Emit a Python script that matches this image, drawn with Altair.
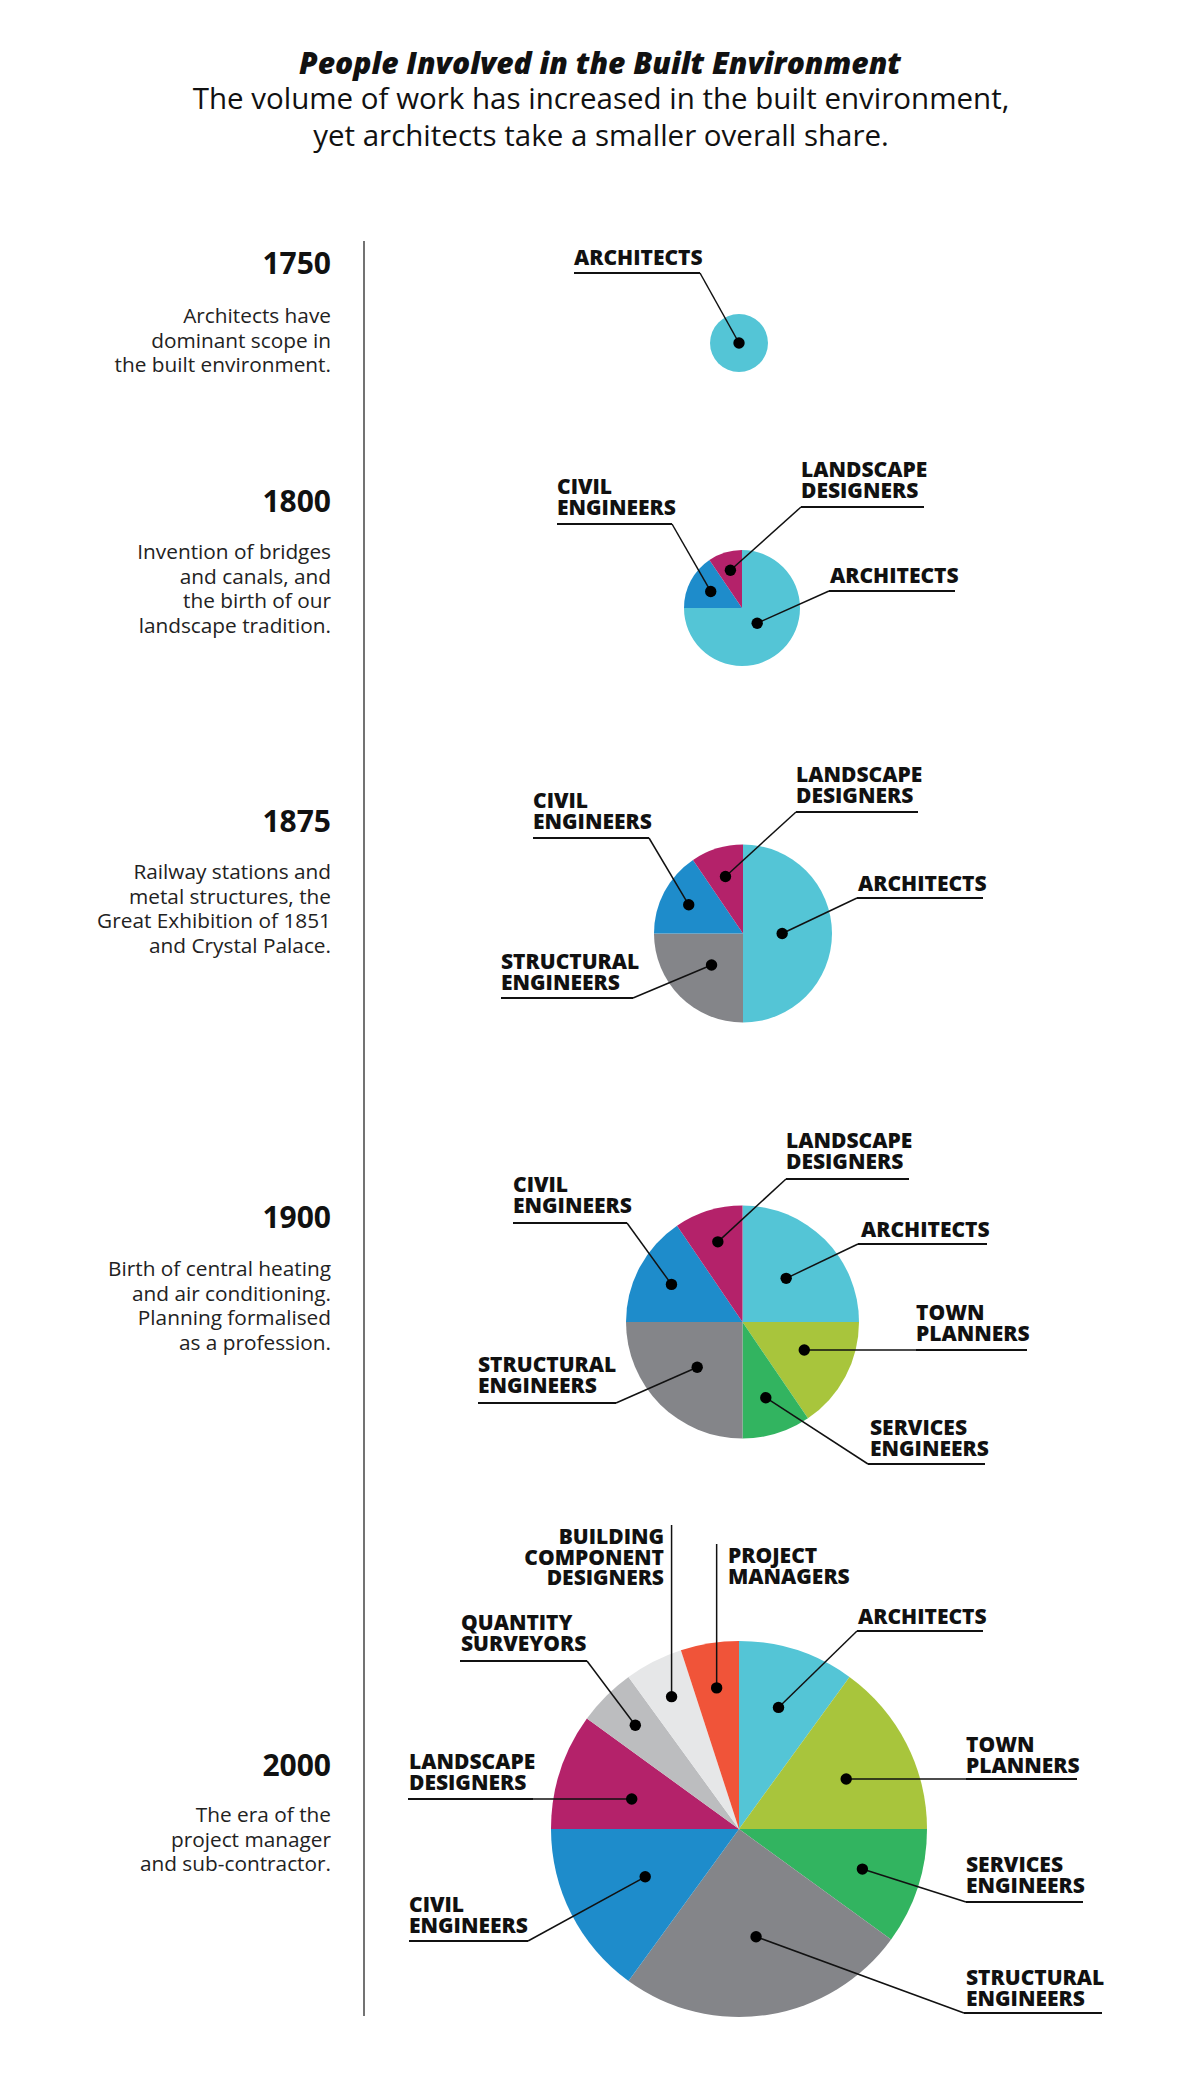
import altair as alt
import numpy as np
import pandas as pd

# ---------------- data ----------------
TITLE = "People Involved in the Built Environment"
SUBTITLE = ["The volume of work has increased in the built environment,",
            "yet architects take a smaller overall share."]

years = ["1750", "1800", "1875", "1900", "2000"]
descriptions = [
    "Architects have\ndominant scope in\nthe built environment.",
    "Invention of bridges\nand canals, and\nthe birth of our\nlandscape tradition.",
    "Railway stations and\nmetal structures, the\nGreat Exhibition of 1851\nand Crystal Palace.",
    "Birth of central heating\nand air conditioning.\nPlanning formalised\nas a profession.",
    "The era of the\nproject manager\nand sub-contractor.",
]
professions = ["Architects", "Town Planners", "Services Engineers",
               "Structural Engineers", "Civil Engineers", "Landscape Designers",
               "Quantity Surveyors", "Building Component Designers", "Project Managers"]
label_texts = ["ARCHITECTS", "TOWN\nPLANNERS", "SERVICES\nENGINEERS",
               "STRUCTURAL\nENGINEERS", "CIVIL\nENGINEERS", "LANDSCAPE\nDESIGNERS",
               "QUANTITY\nSURVEYORS", "BUILDING\nCOMPONENT\nDESIGNERS", "PROJECT\nMANAGERS"]
# share of the work (%) per profession, same order as `professions`
shares_1750 = [100, 0, 0, 0, 0, 0, 0, 0, 0]
shares_1800 = [75, 0, 0, 0, 15.5, 9.5, 0, 0, 0]
shares_1875 = [50, 0, 0, 25, 15.5, 9.5, 0, 0, 0]
shares_1900 = [25, 15.5, 9.5, 25, 15.5, 9.5, 0, 0, 0]
shares_2000 = [10, 15, 10, 25, 15, 10, 5, 5, 5]
shares = {"1750": shares_1750, "1800": shares_1800, "1875": shares_1875,
          "1900": shares_1900, "2000": shares_2000}

# ---------------- styles / layout ----------------
colors = ["#54C5D6", "#A8C53C", "#32B460", "#848589", "#1E8CCB",
          "#B4226A", "#BCBDBF", "#E6E7E8", "#F05439"]
FONT = "Open Sans"
# pie centre x, centre y, radius (page pixels)
PIE = {"1750": (739, 343, 29), "1800": (742, 608, 58), "1875": (743, 933.5, 89),
       "1900": (742.5, 1322, 116.5), "2000": (739, 1829, 188)}
YEAR_BASE = {"1750": 274, "1800": 512, "1875": 832, "1900": 1228, "2000": 1776}
DESC_BASE = {"1750": 323, "1800": 559, "1875": 879, "1900": 1276, "2000": 1822}
TEXT_RIGHT = 331
# (year, profession, align, text x, first baseline, underline x1, x2, y,
#  attach side, dot radius fraction, style)
LABELS = [
    ("1750", "Architects", "left", 574, 265, 574, 700, 273, "x2", 0.0, "u"),
    ("1800", "Civil Engineers", "left", 557, 494, 557, 672, 524, "x2", 0.61, "u"),
    ("1800", "Landscape Designers", "left", 801, 477, 801, 924, 507, "x1", 0.68, "u"),
    ("1800", "Architects", "left", 830, 583, 829, 955, 591, "x1", 0.37, "u"),
    ("1875", "Landscape Designers", "left", 796, 782, 796, 918, 812, "x1", 0.67, "u"),
    ("1875", "Civil Engineers", "left", 533, 808, 533, 649, 838, "x2", 0.69, "u"),
    ("1875", "Architects", "left", 858, 891, 857, 983, 898, "x1", 0.44, "u"),
    ("1875", "Structural Engineers", "left", 501, 969, 501, 633, 998, "x2", 0.50, "u"),
    ("1900", "Landscape Designers", "left", 786, 1148, 786, 909, 1179, "x1", 0.72, "u"),
    ("1900", "Civil Engineers", "left", 513, 1192, 513, 627, 1223, "x2", 0.69, "u"),
    ("1900", "Architects", "left", 861, 1237, 858, 987, 1244, "x1", 0.53, "u"),
    ("1900", "Town Planners", "left", 916, 1320, 916, 1027, 1350, "x1", 0.60, "flat"),
    ("1900", "Structural Engineers", "left", 478, 1372, 478, 616, 1403, "x2", 0.55, "u"),
    ("1900", "Services Engineers", "left", 870, 1435, 868, 985, 1464, "x1", 0.68, "u"),
    ("2000", "Building Component Designers", "right", 664, 1544, 0, 0, 1525, "v", 0.79, "v"),
    ("2000", "Project Managers", "left", 728, 1563, 0, 0, 1544, "v", 0.76, "v"),
    ("2000", "Architects", "left", 858, 1624, 857, 983, 1631, "x1", 0.68, "u"),
    ("2000", "Quantity Surveyors", "left", 461, 1630, 460, 587, 1661, "x2", 0.78, "u"),
    ("2000", "Town Planners", "left", 966, 1752, 966, 1077, 1779, "x1", 0.64, "flat"),
    ("2000", "Landscape Designers", "left", 409, 1769, 408, 533, 1799, "x2", 0.60, "flat"),
    ("2000", "Services Engineers", "left", 966, 1872, 966, 1083, 1902, "x1", 0.69, "u"),
    ("2000", "Civil Engineers", "left", 409, 1912, 409, 528, 1941, "x2", 0.56, "u"),
    ("2000", "Structural Engineers", "left", 966, 1985, 964, 1102, 2013, "x1", 0.58, "u"),
]

# ---------------- tables ----------------
rows = []
for y in years:
    cx, cy, r = PIE[y]
    acc = 0.0
    for i, p in enumerate(professions):
        v = shares[y][i]
        if v <= 0:
            continue
        rows.append(dict(year=y, profession=p, share=v, t0=acc, t1=acc + v,
                         cx=cx, cy=cy, r=r))
        acc += v
slices = pd.DataFrame(rows)

lab_rows = []
for (y, p, align, tx, ty, ux1, ux2, uy, side, frac, style) in LABELS:
    s = slices[(slices["year"] == y) & (slices["profession"] == p)].iloc[0]
    mid = (s["t0"] + s["t1"]) / 2 / 100 * 2 * np.pi
    d = frac * s["r"]
    dx = s["cx"] + d * np.sin(mid)
    dy = s["cy"] - d * np.cos(mid)
    if style == "flat":
        dy = uy  # dot level with its underline
    if style == "v":
        lx, ly = dx, uy
    else:
        lx = ux1 if side == "x1" else ux2
        ly = uy
    lab_rows.append(dict(year=y, profession=p, text=label_texts[professions.index(p)],
                         anchor=align, tx=tx, ty=ty, ux1=ux1, ux2=ux2, uy=uy,
                         dotx=dx, doty=dy, lx=lx, ly=ly, style=style))
labels = pd.DataFrame(lab_rows)
underl = labels[labels["style"] != "v"]

years_df = pd.DataFrame(dict(year=years, desc=descriptions,
                             ybase=[YEAR_BASE[y] for y in years],
                             dbase=[DESC_BASE[y] for y in years],
                             x=[TEXT_RIGHT] * len(years)))
title_df = pd.DataFrame(dict(text=[TITLE], x=[600], y=[74]))
sub_df = pd.DataFrame(dict(text=["\n".join(SUBTITLE)], x=[601], y=[109]))
axis_df = pd.DataFrame(dict(x=[364], y=[241], y2=[2016]))

# ---------------- chart ----------------
W, H = 1184, 2064
XS = alt.Scale(domain=[8, 8 + W], range=[0, W], nice=False, zero=False)
YS = alt.Scale(domain=[8, 8 + H], range=[0, H], nice=False, zero=False)
TS = alt.Scale(domain=[0, 100], range=[0, 2 * np.pi])


def X(f):
    return alt.X(f, type="quantitative", scale=XS, axis=None)


def Y(f):
    return alt.Y(f, type="quantitative", scale=YS, axis=None)


arcs = alt.Chart(slices).mark_arc().encode(
    x=X("cx"), y=Y("cy"),
    theta=alt.Theta("t0:Q", scale=TS, stack=None), theta2="t1:Q",
    radius=alt.Radius("r:Q", scale=None),
    color=alt.Color("profession:N", scale=alt.Scale(domain=professions, range=colors),
                    legend=None),
)

underlines = alt.Chart(underl).mark_rule(color="#111111", strokeWidth=2).encode(
    x=X("ux1"), x2="ux2", y=Y("uy"))

leaders = alt.Chart(labels).mark_rule(color="#111111", strokeWidth=1.5).encode(
    x=X("dotx"), y=Y("doty"), x2="lx", y2="ly")

dots = alt.Chart(labels).mark_circle(color="#000000", size=130, opacity=1).encode(
    x=X("dotx"), y=Y("doty"))

lab_left = alt.Chart(labels[labels["anchor"] == "left"]).mark_text(
    align="left", baseline="alphabetic", font=FONT, fontWeight=800, fontSize=21,
    lineBreak="\n", lineHeight=20.5, color="#111111").encode(
    x=X("tx"), y=Y("ty"), text="text:N")

lab_right = alt.Chart(labels[labels["anchor"] == "right"]).mark_text(
    align="right", baseline="alphabetic", font=FONT, fontWeight=800, fontSize=21,
    lineBreak="\n", lineHeight=20.5, color="#111111").encode(
    x=X("tx"), y=Y("ty"), text="text:N")

year_txt = alt.Chart(years_df).mark_text(
    align="right", baseline="alphabetic", font=FONT, fontWeight="bold", fontSize=30,
    color="#111111").encode(x=X("x"), y=Y("ybase"), text="year:N")

desc_txt = alt.Chart(years_df).mark_text(
    align="right", baseline="alphabetic", font=FONT, fontSize=20.8, lineBreak="\n",
    lineHeight=24.5, color="#222222").encode(x=X("x"), y=Y("dbase"), text="desc:N")

title_txt = alt.Chart(title_df).mark_text(
    align="center", baseline="alphabetic", font=FONT, fontWeight=800,
    fontStyle="italic", fontSize=30, color="#111111").encode(
    x=X("x"), y=Y("y"), text="text:N")

sub_txt = alt.Chart(sub_df).mark_text(
    align="center", baseline="alphabetic", font=FONT, fontSize=29.5, lineBreak="\n",
    lineHeight=37, color="#111111").encode(x=X("x"), y=Y("y"), text="text:N")

timeline = alt.Chart(axis_df).mark_rule(color="#444444", strokeWidth=1.5).encode(
    x=X("x"), y=Y("y"), y2="y2")

chart = alt.layer(
    timeline, arcs, underlines, leaders, dots, lab_left, lab_right,
    year_txt, desc_txt, title_txt, sub_txt
).properties(width=W, height=H, padding=0, background="white").configure_view(
    stroke=None)

chart.save("out.html", embed_options={"renderer": "svg", "actions": False})
